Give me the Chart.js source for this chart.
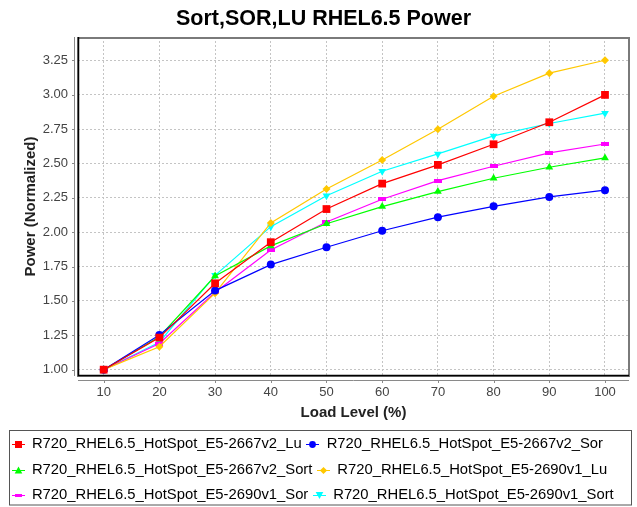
<!DOCTYPE html>
<html><head><meta charset="utf-8">
<script src="https://cdn.jsdelivr.net/npm/chart.js@4.4.1/dist/chart.umd.min.js"></script>
<style>html,body{margin:0;padding:0;background:#fff;overflow:hidden}canvas{display:block}</style>
</head><body>
<canvas id="c" width="637" height="507"></canvas>
<script>
// ---- data ----
const loadLevels = [10, 20, 30, 40, 50, 60, 70, 80, 90, 100];
const yTickValues = [1.00, 1.25, 1.50, 1.75, 2.00, 2.25, 2.50, 2.75, 3.00, 3.25];
const seriesNames = [
  'R720_RHEL6.5_HotSpot_E5-2667v2_Lu',
  'R720_RHEL6.5_HotSpot_E5-2667v2_Sor',
  'R720_RHEL6.5_HotSpot_E5-2667v2_Sort',
  'R720_RHEL6.5_HotSpot_E5-2690v1_Lu',
  'R720_RHEL6.5_HotSpot_E5-2690v1_Sor',
  'R720_RHEL6.5_HotSpot_E5-2690v1_Sort'
];
const lu2667v2   = [1.00, 1.233, 1.628, 1.927, 2.168, 2.353, 2.489, 2.639, 2.799, 2.998];
const sor2667v2  = [1.00, 1.252, 1.575, 1.764, 1.890, 2.010, 2.109, 2.188, 2.256, 2.305];
const sort2667v2 = [1.00, 1.240, 1.681, 1.900, 2.061, 2.186, 2.295, 2.392, 2.472, 2.540];
const lu2690v1   = [1.00, 1.167, 1.556, 2.067, 2.314, 2.525, 2.748, 2.988, 3.156, 3.250];
const sor2690v1  = [1.00, 1.190, 1.563, 1.870, 2.074, 2.239, 2.375, 2.479, 2.576, 2.641];
const sort2690v1 = [1.00, 1.200, 1.686, 2.040, 2.265, 2.443, 2.569, 2.700, 2.790, 2.865];
const seriesValues = [lu2667v2, sor2667v2, sort2667v2, lu2690v1, sor2690v1, sort2690v1];
const seriesColors = ['#ff0000', '#0000ff', '#00ff00', '#ffc800', '#ff00ff', '#00ffff'];

// ---- styles ----
const FONT = "'Liberation Sans', Arial, sans-serif";
Chart.defaults.font.family = FONT;

function hRectCanvas(color, w, h) {
  const c = document.createElement('canvas'); c.width = w; c.height = h;
  const g = c.getContext('2d'); g.fillStyle = color; g.fillRect(0, 0, w, h); return c;
}
const pointStyles = ['rect', 'circle', 'triangle', 'rectRot', hRectCanvas('#ff00ff', 8, 4), 'triangle'];
const pointRadii = [5.5, 4, 4.5, 4, 4, 4.5];
const pointRotations = [0, 0, 0, 0, 0, 180];

function legendIcon(i) {
  const c = document.createElement('canvas'); c.width = 13; c.height = 10;
  const g = c.getContext('2d');
  const col = seriesColors[i];
  g.strokeStyle = col; g.fillStyle = col; g.lineWidth = 1;
  g.beginPath(); g.moveTo(0, 5.5); g.lineTo(13, 5.5); g.stroke();
  const cx = 6.5, cy = 5.5;
  g.beginPath();
  switch (i) {
    case 0: g.fillRect(3, 2, 7, 7); break;
    case 1: g.arc(cx, cy, 3.4, 0, Math.PI * 2); g.fill(); break;
    case 2: g.moveTo(cx, 1.5); g.lineTo(cx + 3.8, 8.5); g.lineTo(cx - 3.8, 8.5); g.closePath(); g.fill(); break;
    case 3: g.moveTo(cx, 2); g.lineTo(cx + 3.6, cy); g.lineTo(cx, 9); g.lineTo(cx - 3.6, cy); g.closePath(); g.fill(); break;
    case 4: g.fillRect(3, 4, 7, 3); break;
    case 5: g.moveTo(cx - 3.8, 2); g.lineTo(cx + 3.8, 2); g.lineTo(cx, 9); g.closePath(); g.fill(); break;
  }
  return c;
}
const legendIcons = seriesNames.map((n, i) => legendIcon(i));

const datasets = seriesNames.map((name, i) => ({
  label: name,
  data: loadLevels.map((x, k) => ({x: x, y: seriesValues[i][k]})),
  borderColor: seriesColors[i],
  backgroundColor: seriesColors[i],
  borderWidth: 1.2,
  pointStyle: pointStyles[i],
  pointRadius: pointRadii[i],
  pointRotation: pointRotations[i],
  pointBorderWidth: 0,
  pointHoverRadius: pointRadii[i],
  tension: 0,
  fill: false
}));

const LEG_DY = 8.8, LEG_DX = 7;
const decor = {
  id: 'decor',
  afterLayout(chart) {
    const lg = chart.legend;
    lg.top += LEG_DY; lg.bottom += LEG_DY;
    lg.left += LEG_DX; lg.right += LEG_DX;
    const t = chart.titleBlock;
    if (t) { t.left += 5; t.right += 5; }
  },
  beforeDatasetsDraw(chart) {
    const {ctx, chartArea: a, scales: {x, y}} = chart;
    ctx.save();
    ctx.strokeStyle = '#8a8a8a'; ctx.lineWidth = 1;
    ctx.beginPath();
    const ax = a.left - 3.5, ay = a.bottom + 4.5;
    ctx.moveTo(ax, a.top); ctx.lineTo(ax, a.bottom);
    yTickValues.forEach(v => { const p = Math.round(y.getPixelForValue(v)) + 0.5; ctx.moveTo(ax - 2.5, p); ctx.lineTo(ax, p); });
    ctx.moveTo(a.left, ay); ctx.lineTo(a.right, ay);
    loadLevels.forEach(v => { const p = Math.round(x.getPixelForValue(v)) + 0.5; ctx.moveTo(p, ay); ctx.lineTo(p, ay + 2.5); });
    ctx.stroke();
    ctx.strokeStyle = '#7a7a7a'; ctx.lineWidth = 2;
    ctx.strokeRect(a.left, a.top + 1, a.right - a.left, a.bottom - a.top - 1);
    ctx.strokeStyle = '#000'; ctx.lineWidth = 1.5;
    ctx.beginPath();
    ctx.moveTo(a.left + 0.5, a.top); ctx.lineTo(a.left + 0.5, a.bottom - 0.5); ctx.lineTo(a.right, a.bottom - 0.5);
    ctx.stroke();
    ctx.restore();
  },
  afterDraw(chart) {
    const {ctx} = chart;
    const lg = chart.legend;
    ctx.save();
    (lg.legendHitBoxes || []).forEach((hb, i) => {
      const icon = legendIcons[i];
      ctx.drawImage(icon, Math.round(hb.left + 6.5 - icon.width / 2), Math.round(hb.top + hb.height / 2 - icon.height / 2));
    });
    ctx.strokeStyle = '#555'; ctx.lineWidth = 1;
    ctx.strokeRect(9.5, Math.round(lg.top) + 1.5, 622, 74.5);
    ctx.restore();
  }
};

new Chart(document.getElementById('c'), {
  type: 'line',
  data: {datasets},
  plugins: [decor],
  options: {
    responsive: false,
    animation: false,
    devicePixelRatio: 1,
    layout: {padding: {left: 0, right: 0, top: 0, bottom: 0}},
    plugins: {
      title: {
        display: true,
        text: 'Sort,SOR,LU RHEL6.5 Power',
        color: '#000',
        font: {size: 21.5, weight: 'bold', family: FONT},
        padding: {top: 5.9, bottom: 5.3}
      },
      legend: {
        display: true,
        position: 'bottom',
        align: 'start',
        labels: {
          usePointStyle: false,
          boxWidth: 13,
          boxHeight: 21,
          padding: 4.5,
          color: '#000',
          font: {size: 14.8, family: FONT},
          generateLabels(chart) {
            return chart.data.datasets.map((ds, i) => ({
              text: ds.label,
              datasetIndex: i,
              fillStyle: 'rgba(0,0,0,0)',
              strokeStyle: 'rgba(0,0,0,0)',
              lineWidth: 0,
              hidden: false,
              fontColor: '#000'
            }));
          }
        }
      },
      tooltip: {enabled: false}
    },
    scales: {
      x: {
        type: 'linear',
        min: 5.39,
        max: 104.31,
        afterFit(s) { s.height = 44.5; },
        afterBuildTicks(s) { s.ticks = loadLevels.map(v => ({value: v})); },
        ticks: {color: '#444', font: {size: 13}, padding: 8.7, autoSkip: false, maxRotation: 0,
                callback: v => String(v)},
        grid: {color: '#c4c4c4', lineWidth: 1, drawTicks: false},
        border: {display: false, dash: [2, 2]},
        title: {display: true, text: 'Load Level (%)', color: '#222',
                font: {size: 15, weight: 'bold'}, padding: {top: 0, bottom: -1.5}}
      },
      y: {
        type: 'linear',
        min: 0.954,
        max: 3.419,
        afterFit(s) { s.width = 78; },
        afterBuildTicks(s) { s.ticks = yTickValues.map(v => ({value: v})); },
        ticks: {color: '#444', font: {size: 13}, padding: 10, autoSkip: false,
                callback: v => Number(v).toFixed(2)},
        grid: {color: '#c4c4c4', lineWidth: 1, drawTicks: false},
        border: {display: false, dash: [2, 2]},
        title: {display: true, text: 'Power (Normalized)', color: '#222',
                font: {size: 15, weight: 'bold'}, padding: {top: 22, bottom: 0}}
      },
      yRight: {
        position: 'right',
        display: true,
        afterFit(s) { s.width = 8; },
        ticks: {display: false},
        grid: {display: false, drawTicks: false},
        border: {display: false}
      }
    }
  }
});
</script>
</body></html>
